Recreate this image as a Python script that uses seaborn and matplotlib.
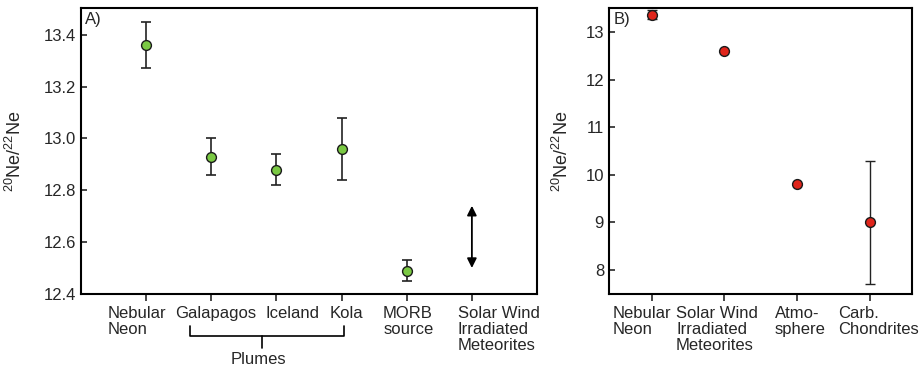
import numpy as np
import matplotlib
matplotlib.use('Agg')
import matplotlib.pyplot as plt
import matplotlib.transforms as mtransforms
import seaborn as sns
import pandas as pd

# Panel A: neon isotope ratios in mantle sources
a_labels = ['Nebular\nNeon', 'Galapagos', 'Iceland', 'Kola', 'MORB\nsource',
            'Solar Wind\nIrradiated\nMeteorites']
a_value = [13.36, 12.93, 12.88, 12.96, 12.49]
a_low = [13.27, 12.86, 12.82, 12.84, 12.45]
a_high = [13.45, 13.00, 12.94, 13.08, 12.53]
a_range = [12.50, 12.74]  # solar wind irradiated meteorites range (arrow)

# Panel B: reservoirs
b_labels = ['Nebular\nNeon', 'Solar Wind\nIrradiated\nMeteorites', 'Atmo-\nsphere',
            'Carb.\nChondrites']
b_value = [13.36, 12.6, 9.8, 9.0]
b_low = [13.27, 12.6, 9.8, 7.7]
b_high = [13.45, 12.6, 9.8, 10.3]

# horizontal nudges (pixels) of the tick labels, as placed in the original figure
a_label_shift = [-9, 4, 16, 4.5, 1.5, 27]
b_label_shift = [-10, -7.5, 3, 8.5]

sns.set_style('white')
plt.rcParams['font.family'] = ['Liberation Sans', 'DejaVu Sans']
plt.rcParams['mathtext.fontset'] = 'custom'
plt.rcParams['mathtext.rm'] = 'Liberation Sans'
plt.rcParams['mathtext.it'] = 'Liberation Sans'
fs = 12

fig = plt.figure(figsize=(9.24, 3.66), dpi=100)
axA = fig.add_axes([0.0877, 0.197, 0.4935, 0.781])
axB = fig.add_axes([0.659, 0.197, 0.328, 0.781])

ylab = r'$^{20}$Ne/$^{22}$Ne'


def style_axes(ax, shifts):
    for s in ax.spines.values():
        s.set_visible(True)
        s.set_linewidth(1.5)
        s.set_color('black')
    ax.tick_params(axis='y', direction='in', length=4, width=1.2, labelsize=fs, left=True)
    ax.tick_params(axis='x', direction='out', length=5, width=1.2, labelsize=fs, bottom=True)
    ax.set_ylabel(ylab, fontsize=fs + 1)
    ax.set_xlabel('')
    for lab, dx in zip(ax.get_xticklabels(), shifts):
        lab.set_linespacing(1.1)
        lab.set_transform(lab.get_transform() +
                          mtransforms.ScaledTranslation(dx / 100, 0, fig.dpi_scale_trans))


# --- Panel A ---
dfA = pd.DataFrame({'x': np.arange(len(a_value)), 'y': a_value,
                    'lo': a_low, 'hi': a_high})
axA.errorbar(dfA['x'], dfA['y'], yerr=[dfA['y'] - dfA['lo'], dfA['hi'] - dfA['y']],
             fmt='none', ecolor='#222222', elinewidth=1.2, capsize=3.3, capthick=1.2, zorder=2)
sns.scatterplot(data=dfA, x='x', y='y', ax=axA, color='#7ac943', edgecolor='#1a1a1a',
                linewidth=1.0, s=50, zorder=3, legend=False)
axA.annotate('', xy=(5, a_range[1]), xytext=(5, a_range[0]),
             arrowprops=dict(arrowstyle='<|-|>', color='black', lw=1.3,
                             mutation_scale=14, shrinkA=0, shrinkB=0))
axA.set_xlim(-1, 6)
axA.set_ylim(12.4, 13.503)
axA.set_xticks(np.arange(len(a_labels)))
axA.set_xticklabels(a_labels, multialignment='left')
axA.set_yticks([12.4, 12.6, 12.8, 13.0, 13.2, 13.4])
axA.set_yticklabels(['12.4', '12.6', '12.8', '13.0', '13.2', '13.4'])
style_axes(axA, a_label_shift)
axA.yaxis.set_label_coords(-0.123, 0.5)
axA.text(0.008, 0.985, 'A)', transform=axA.transAxes, ha='left', va='top', fontsize=fs)

# Plumes bracket under Galapagos..Kola
tr = mtransforms.blended_transform_factory(axA.transData, axA.transAxes)
axA.plot([0.67, 0.67, 3.03, 3.03], [-0.114, -0.149, -0.149, -0.114], color='black',
         lw=1.2, transform=tr, clip_on=False)
axA.plot([1.78, 1.78], [-0.149, -0.189], color='black', lw=1.2, transform=tr, clip_on=False)
axA.text(1.72, -0.231, 'Plumes', transform=tr, ha='center', va='center', fontsize=fs)

# --- Panel B ---
dfB = pd.DataFrame({'x': np.arange(len(b_value)), 'y': b_value,
                    'lo': b_low, 'hi': b_high})
axB.errorbar(dfB['x'], dfB['y'], yerr=[dfB['y'] - dfB['lo'], dfB['hi'] - dfB['y']],
             fmt='none', ecolor='#222222', elinewidth=1.0, capsize=3.8, capthick=1.0, zorder=2)
sns.scatterplot(data=dfB, x='x', y='y', ax=axB, color='#e0251b', edgecolor='#1a1a1a',
                linewidth=1.0, s=50, zorder=3, legend=False)
axB.set_xlim(-0.59, 3.58)
axB.set_ylim(7.5, 13.5)
axB.set_xticks(np.arange(len(b_labels)))
axB.set_xticklabels(b_labels, multialignment='left')
axB.set_yticks([8, 9, 10, 11, 12, 13])
style_axes(axB, b_label_shift)
axB.yaxis.set_label_coords(-0.122, 0.5)
axB.text(0.015, 0.985, 'B)', transform=axB.transAxes, ha='left', va='top', fontsize=fs)

fig.savefig('out.png', dpi=100)
